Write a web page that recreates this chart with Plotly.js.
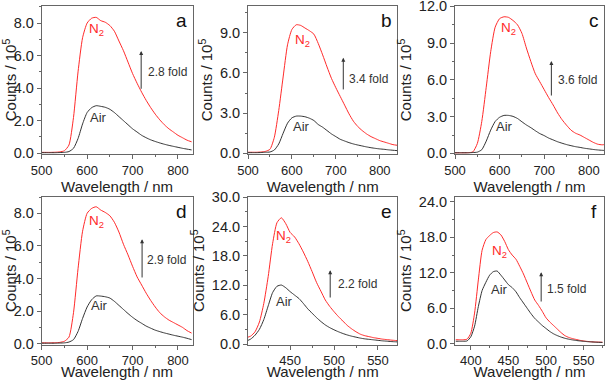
<!DOCTYPE html>
<html>
<head>
<meta charset="utf-8">
<script src="https://cdn.plot.ly/plotly-3.0.1.min.js"></script>
<style>html,body{margin:0;padding:0;background:#fff;}#chart{width:606px;height:380px;}</style>
</head>
<body>
<div id="chart"></div>
<script>
// ---- Data (Counts / 10^5) ----
var wlA = [500,510,520,530,540,550,560,570,580,590,600,610,620,630,640,650,660,670,680,690,700,710,720,730,740,750,760,770,780,790,800,810,820,830];
var n2A = [0.05,0.05,0.05,0.06,0.08,0.15,0.5,2.2,5.0,7.1,8.0,8.3,8.35,8.15,8.05,7.85,7.5,6.9,6.3,5.6,4.9,4.3,3.75,3.25,2.8,2.4,2.05,1.75,1.5,1.3,1.1,0.95,0.8,0.7];
var airA = [0.03,0.03,0.03,0.03,0.04,0.05,0.1,0.3,0.9,1.8,2.5,2.8,2.92,2.88,2.82,2.7,2.5,2.25,2.0,1.75,1.5,1.3,1.1,0.95,0.82,0.72,0.63,0.55,0.48,0.42,0.36,0.3,0.25,0.2];

var wlB = [500,510,520,530,540,550,560,570,580,590,600,610,620,630,640,650,660,670,680,690,700,710,720,730,740,750,760,770,780,790,800,810,820,830,840];
var n2B = [0.08,0.08,0.08,0.1,0.15,0.3,1.2,3.2,5.7,8.1,9.25,9.6,9.55,9.35,9.15,8.9,8.2,7.35,6.45,5.6,4.9,4.25,3.6,2.95,2.4,2.0,1.7,1.45,1.25,1.1,0.95,0.85,0.75,0.65,0.6];
var airB = [0.05,0.05,0.05,0.06,0.08,0.1,0.25,0.7,1.5,2.25,2.65,2.78,2.78,2.73,2.62,2.45,2.15,1.95,1.7,1.45,1.25,1.05,0.92,0.8,0.7,0.62,0.55,0.48,0.42,0.37,0.33,0.3,0.26,0.23,0.2];

var wlC = [500,510,520,530,540,550,560,570,580,590,600,610,620,630,640,650,660,670,680,690,700,710,720,730,740,750,760,770,780,790,800,810,820,830,840];
var n2C = [0.05,0.05,0.05,0.06,0.12,0.8,2.6,5.4,8.3,10.3,11.0,11.15,11.1,10.85,10.5,9.8,8.6,7.5,6.5,5.85,5.2,4.55,3.95,3.3,2.75,2.3,1.9,1.65,1.5,1.3,1.1,0.9,0.75,0.7,0.75];
var airC = [0.05,0.05,0.05,0.05,0.07,0.1,0.3,1.0,1.9,2.6,2.95,3.1,3.1,3.02,2.85,2.58,2.32,2.1,1.85,1.62,1.45,1.25,1.1,0.95,0.83,0.72,0.63,0.55,0.49,0.42,0.37,0.32,0.28,0.25,0.23];

var wlD = [500,510,520,530,540,550,560,570,580,590,600,610,620,630,640,650,660,670,680,690,700,710,720,730,740,750,760,770,780,790,800,810,820,830];
var n2D = [0.05,0.05,0.05,0.06,0.08,0.15,0.4,1.9,4.6,6.9,8.0,8.3,8.4,8.2,8.05,7.85,7.45,6.85,6.1,5.45,4.75,4.1,3.6,3.1,2.65,2.25,1.9,1.65,1.45,1.3,1.15,1.0,0.8,0.65];
var airD = [0.03,0.03,0.03,0.03,0.04,0.05,0.1,0.25,0.75,1.55,2.25,2.7,2.93,2.92,2.88,2.8,2.6,2.35,2.1,1.85,1.62,1.42,1.25,1.08,0.95,0.83,0.74,0.66,0.59,0.52,0.46,0.4,0.33,0.25];

var wlE = [400,405,410,415,420,425,430,435,440,445,450,455,460,465,470,475,480,485,490,495,500,505,510,515,520,525,530,535,540,545,550,555,560,565,570,575];
var n2E = [1.3,1.6,2.5,4.5,8.3,13.8,20.5,24.8,25.8,24.6,22.8,21.9,20.5,18.8,16.9,14.8,12.6,10.8,9.0,7.7,6.6,5.6,4.7,3.8,3.1,2.5,2.0,1.7,1.5,1.3,1.15,1.0,0.9,0.8,0.72,0.65];
var airE = [0.6,1.0,1.8,3.0,5.0,7.8,10.5,11.8,12.05,11.5,10.7,10.0,9.3,8.3,7.2,6.3,5.4,4.6,3.9,3.35,2.9,2.5,2.15,1.85,1.6,1.4,1.2,1.05,0.95,0.85,0.75,0.65,0.58,0.5,0.45,0.4];

var wlF = [380,385,390,395,400,405,410,415,420,425,430,435,440,445,450,455,460,465,470,475,480,485,490,495,500,505,510,515,520,525,530,535,540,545,550,555,560,565,570,575];
var n2F = [0.7,0.7,0.7,0.8,1.8,5.2,10.8,15.8,17.6,18.3,18.8,18.9,18.4,17.3,15.9,15.0,14.3,13.1,11.8,10.3,8.8,7.4,6.5,5.5,4.4,3.7,3.1,2.5,1.9,1.4,1.1,0.9,0.75,0.6,0.5,0.42,0.36,0.32,0.3,0.28];
var airF = [0.45,0.45,0.45,0.5,1.2,3.0,6.3,9.0,10.4,11.6,12.2,12.3,11.6,10.8,10.0,9.5,8.8,7.8,6.9,6.0,5.1,4.3,3.7,3.1,2.6,2.1,1.7,1.4,1.15,0.95,0.8,0.68,0.58,0.5,0.44,0.38,0.34,0.3,0.27,0.25];

var panelLetters = ["a","b","c","d","e","f"];
var foldLabels = ["2.8 fold","3.4 fold","3.6 fold","2.9 fold","2.2 fold","1.5 fold"];

// ---- Layout helpers ----
var panels = [
  {wl: wlA, n2: n2A, air: airA, xr:[500,832], yr:[-0.05,9.05], dx:100, dy:2, n2Pos:[621,7.6], airPos:[624,2.2], arr:[719,3.87,6.28], fold:[729,5.0]},
  {wl: wlB, n2: n2B, air: airB, xr:[500,840], yr:[-0.05,11.0], dx:100, dy:3, n2Pos:[625,8.43], airPos:[621,2.0], arr:[717,4.66,7.14], fold:[725,5.58]},
  {wl: wlC, n2: n2C, air: airC, xr:[500,834], yr:[-0.05,12.03], dx:100, dy:3, n2Pos:[619,10.18], airPos:[612,2.22], arr:[716,4.6,7.54], fold:[727,5.97]},
  {wl: wlD, n2: n2D, air: airD, xr:[500,832], yr:[-0.05,9.0], dx:100, dy:2, n2Pos:[621,7.5], airPos:[627,2.32], arr:[721,3.97,6.41], fold:[728,5.13]},
  {wl: wlE, n2: n2E, air: airE, xr:[402,572], yr:[-0.1,30.05], dx:50, dy:6, n2Pos:[442,21.9], airPos:[443,8.66], arr:[495.6,9.2,15.1], fold:[502.5,12.2]},
  {wl: wlF, n2: n2F, air: airF, xr:[379,577], yr:[-0.1,24.8], dx:50, dy:6, n2Pos:[438.4,15.6], airPos:[437.6,9.14], arr:[493.5,6.9,12.1], fold:[498.8,9.3]}
];
var W = 606, H = 380;
var colsPx = [[41.7,192.5],[248,397.3],[455,604]];
var rowsPx = [[6,154],[197,344.5]];

var font = "Liberation Sans, Arial, sans-serif";
var axisCol = "#666";
var data = [];
var layout = {
  width: W, height: H,
  margin: {l:0, r:0, t:0, b:0},
  paper_bgcolor: "#fff", plot_bgcolor: "#fff",
  showlegend: false,
  font: {family: font, color: "#222"},
  annotations: []
};

panels.forEach(function(p, i){
  var n = i + 1;
  var xs = n === 1 ? "" : String(n);
  var xa = "x" + xs, ya = "y" + xs;
  var col = colsPx[i % 3], row = rowsPx[Math.floor(i / 3)];
  var xDom = [col[0] / W, col[1] / W], yDom = [1 - row[1] / H, 1 - row[0] / H];
  data.push({x: p.wl, y: p.n2, xaxis: xa, yaxis: ya, type: "scatter", mode: "lines",
             line: {color: "#ff2a2a", width: 1, shape: "spline", smoothing: 0.6}, hoverinfo: "skip"});
  data.push({x: p.wl, y: p.air, xaxis: xa, yaxis: ya, type: "scatter", mode: "lines",
             line: {color: "#333333", width: 1, shape: "spline", smoothing: 0.6}, hoverinfo: "skip"});
  layout["xaxis" + xs] = {
    domain: xDom, anchor: ya, range: p.xr, dtick: p.dx, tick0: 0, ticklabeloverflow: "allow",
    showgrid: false, zeroline: false, showline: true, linecolor: axisCol, linewidth: 1, mirror: true,
    ticks: "outside", ticklen: 4, tickcolor: axisCol, tickfont: {size: 13, color: "#222"},
    minor: {dtick: p.dx / 2, ticks: "outside", ticklen: 2, tickcolor: axisCol, showgrid: false},
    title: {text: "Wavelength / nm", font: {size: 15, color: "#222"}, standoff: 2}
  };
  layout["yaxis" + xs] = {
    domain: yDom, anchor: xa, range: p.yr, dtick: p.dy, tick0: 0, ticklabeloverflow: "allow",
    tickformat: ".1f",
    showgrid: false, zeroline: false, showline: true, linecolor: axisCol, linewidth: 1, mirror: true,
    ticks: "outside", ticklen: 4, tickcolor: axisCol, tickfont: {size: 14.5, color: "#222"},
    minor: {dtick: p.dy / 2, ticks: "outside", ticklen: 2, tickcolor: axisCol, showgrid: false},
    title: {text: "Counts / 10<sup>5</sup>", font: {size: 15, color: "#222"}, standoff: 3}
  };
  // mirrored inward ticks on top and right edges
  var tx = "xaxis" + (6 + n), ty = "yaxis" + (6 + n);
  layout[tx] = {domain: xDom, anchor: ya, overlaying: xa, side: "top", range: p.xr, dtick: p.dx, tick0: 0,
    showgrid: false, zeroline: false, showline: false, showticklabels: false,
    ticks: "inside", ticklen: 3, tickcolor: axisCol,
    minor: {dtick: p.dx / 2, ticks: "inside", ticklen: 2, tickcolor: axisCol, showgrid: false}};
  layout[ty] = {domain: yDom, anchor: xa, overlaying: ya, side: "right", range: p.yr, dtick: p.dy, tick0: 0,
    showgrid: false, zeroline: false, showline: false, showticklabels: false,
    ticks: "inside", ticklen: 3, tickcolor: axisCol,
    minor: {dtick: p.dy / 2, ticks: "inside", ticklen: 2, tickcolor: axisCol, showgrid: false}};
  // annotations
  layout.annotations.push({xref: xa + " domain", yref: ya + " domain", x: 0.93, y: i < 3 ? 0.90 : 0.905,
    text: panelLetters[i], showarrow: false, font: {size: 19, color: "#111"}, xanchor: "center", yanchor: "middle"});
  layout.annotations.push({xref: xa, yref: ya, x: p.n2Pos[0], y: p.n2Pos[1], text: "N<sub>2</sub>",
    showarrow: false, font: {size: 13.5, color: "#ff2a2a"}, xanchor: "center", yanchor: "middle"});
  layout.annotations.push({xref: xa, yref: ya, x: p.airPos[0], y: p.airPos[1], text: "Air",
    showarrow: false, font: {size: 13, color: "#333"}, xanchor: "center", yanchor: "middle"});
  layout.annotations.push({xref: xa, yref: ya, axref: xa, ayref: ya,
    x: p.arr[0], y: p.arr[2], ax: p.arr[0], ay: p.arr[1], text: "",
    showarrow: true, arrowhead: 2, arrowsize: 0.8, arrowwidth: 1, arrowcolor: "#333", standoff: 0, startstandoff: 0});
  layout.annotations.push({xref: xa, yref: ya, x: p.fold[0], y: p.fold[1], text: foldLabels[i],
    showarrow: false, font: {size: 12, color: "#333"}, xanchor: "left", yanchor: "middle"});
});

Plotly.newPlot("chart", data, layout, {displayModeBar: false, staticPlot: true});
</script>
</body>
</html>
